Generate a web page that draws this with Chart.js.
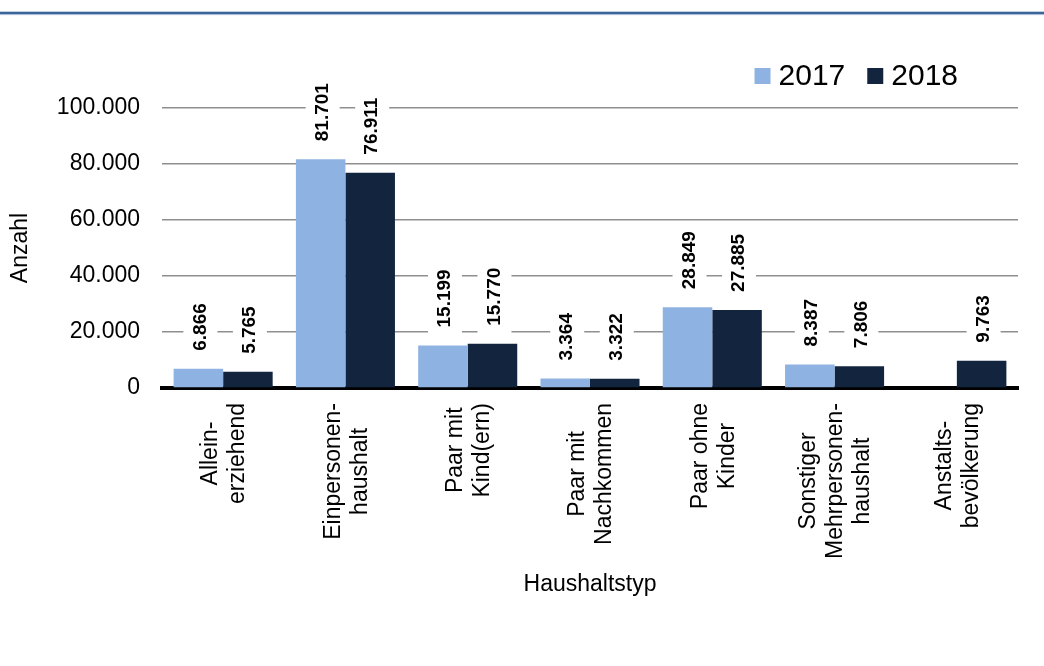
<!DOCTYPE html>
<html lang="de">
<head>
<meta charset="utf-8">
<title>Haushaltstyp 2017/2018</title>
<script src="https://cdn.jsdelivr.net/npm/chart.js@4/dist/chart.umd.min.js"></script>
<style>
  html, body { margin: 0; padding: 0; background: #fff; }
  #wrap { width: 1044px; height: 666px; position: relative; }
</style>
</head>
<body>
<div id="wrap"><canvas id="haushaltChart"></canvas></div>
<script>
// Haushalte nach Typ
const categories = [
    ['Allein-', 'erziehend'],
    ['Einpersonen-', 'haushalt'],
    ['Paar mit', 'Kind(ern)'],
    ['Paar mit', 'Nachkommen'],
    ['Paar ohne', 'Kinder'],
    ['Sonstiger', 'Mehrpersonen-', 'haushalt'],
    ['Anstalts-', 'bevölkerung']
];
const values2017 = [6866, 81701, 15199, 3364, 28849, 8387, null];
const values2018 = [5765, 76911, 15770, 3322, 27885, 7806, 9763];
const yTicks = [0, 20000, 40000, 60000, 80000, 100000];

const FONT = '"Liberation Sans", Arial, sans-serif';
const fmt = v => String(v).replace(/\B(?=(\d{3})+(?!\d))/g, '.');

// blaue Linie ganz oben
const topRule = {
    id: 'topRule',
    beforeDraw(chart) {
        const ctx = chart.ctx;
        ctx.save();
        ctx.fillStyle = '#3b6597';
        ctx.fillRect(0, 11.7, chart.width, 2.4);
        ctx.fillStyle = '#a3b9d6';
        ctx.fillRect(0, 14.1, chart.width, 1);
        ctx.restore();
    }
};

// Werte über den Balken, mit weißem Hintergrund
const valueLabels = {
    id: 'valueLabels',
    afterDatasetsDraw(chart) {
        const ctx = chart.ctx;
        ctx.save();
        ctx.font = 'bold 19px ' + FONT;
        chart.data.datasets.forEach((ds, i) => {
            chart.getDatasetMeta(i).data.forEach((bar, j) => {
                const v = ds.data[j];
                if (v == null) return;
                const txt = fmt(v);
                const w = ctx.measureText(txt).width;
                const x = bar.x + 2;
                const y0 = bar.y - 18;
                ctx.fillStyle = '#fff';
                ctx.fillRect(x - 17, y0 - w - 8, 34, w + 16);
                ctx.save();
                ctx.translate(x, y0);
                ctx.rotate(-Math.PI / 2);
                ctx.fillStyle = '#000';
                ctx.textAlign = 'left';
                ctx.textBaseline = 'middle';
                ctx.fillText(txt, 0, 0);
                ctx.restore();
            });
        });
        ctx.restore();
    }
};

// Kategorienbeschriftung senkrecht, Zeilen zentriert
const catLabels = {
    id: 'catLabels',
    afterDraw(chart) {
        const ctx = chart.ctx;
        const xs = chart.scales.x;
        ctx.save();
        ctx.font = '23px ' + FONT;
        ctx.fillStyle = '#000';
        ctx.textAlign = 'center';
        ctx.textBaseline = 'middle';
        categories.forEach((lines, i) => {
            const x = xs.getPixelForTick(i);
            const maxW = Math.max(...lines.map(l => ctx.measureText(l).width));
            const cy = xs.top + 15 + maxW / 2;
            ctx.save();
            ctx.translate(x, cy);
            ctx.rotate(-Math.PI / 2);
            lines.forEach((l, k) => {
                ctx.fillText(l, 0, (k - (lines.length - 1) / 2) * 27 + 1.5);
            });
            ctx.restore();
        });
        ctx.restore();
    }
};

// Legende oben rechts
const topLegend = {
    id: 'topLegend',
    afterDraw(chart) {
        const ctx = chart.ctx;
        ctx.save();
        ctx.font = '30px ' + FONT;
        ctx.textBaseline = 'middle';
        const items = chart.data.datasets.map(ds => ({ text: ds.label, color: ds.backgroundColor }));
        const widths = items.map(it => 16 + 8 + ctx.measureText(it.text).width);
        const total = widths.reduce((a, b) => a + b, 0) + 22 * (items.length - 1);
        let x = chart.width - 86 - total;
        const cy = 76;
        items.forEach((it, k) => {
            ctx.fillStyle = it.color;
            ctx.fillRect(x, cy - 8, 16, 16);
            ctx.fillStyle = '#000';
            ctx.fillText(it.text, x + 24, cy + 1);
            x += widths[k] + 22;
        });
        ctx.restore();
    }
};

new Chart(document.getElementById('haushaltChart').getContext('2d'), {
    type: 'bar',
    data: {
        labels: categories,
        datasets: [
            { label: '2017', data: values2017, backgroundColor: '#8eb3e2', borderWidth: 0 },
            { label: '2018', data: values2018, backgroundColor: '#13243f', borderWidth: 0 }
        ]
    },
    options: {
        responsive: true,
        maintainAspectRatio: false,
        animation: false,
        devicePixelRatio: 1,
        categoryPercentage: 0.81,
        barPercentage: 1.0,
        layout: { padding: { top: 108, right: 26, bottom: 0, left: 0 } },
        plugins: {
            legend: { display: false },
            tooltip: { enabled: false }
        },
        scales: {
            x: {
                z: 1,
                grid: { display: false },
                border: { display: true, color: '#000', width: 4 },
                ticks: { display: false },
                title: {
                    display: true,
                    text: 'Haushaltstyp',
                    color: '#000',
                    font: { family: FONT, size: 23 },
                    padding: { top: 0, bottom: 68 }
                },
                afterFit(scale) { scale.height = 278; }
            },
            y: {
                min: 0,
                max: 100000,
                afterBuildTicks(scale) { scale.ticks = yTicks.map(v => ({ value: v })); },
                grid: { color: '#8f8f8f', lineWidth: 1.5, drawTicks: false },
                border: { display: false },
                ticks: {
                    padding: 22,
                    color: '#000',
                    font: { family: FONT, size: 23 },
                    callback: v => fmt(v)
                },
                title: {
                    display: true,
                    text: 'Anzahl',
                    color: '#000',
                    font: { family: FONT, size: 23 },
                    padding: { top: 7, bottom: 0 }
                },
                afterFit(scale) { scale.width = 162; }
            }
        }
    },
    plugins: [topRule, valueLabels, catLabels, topLegend]
});
</script>
</body>
</html>
